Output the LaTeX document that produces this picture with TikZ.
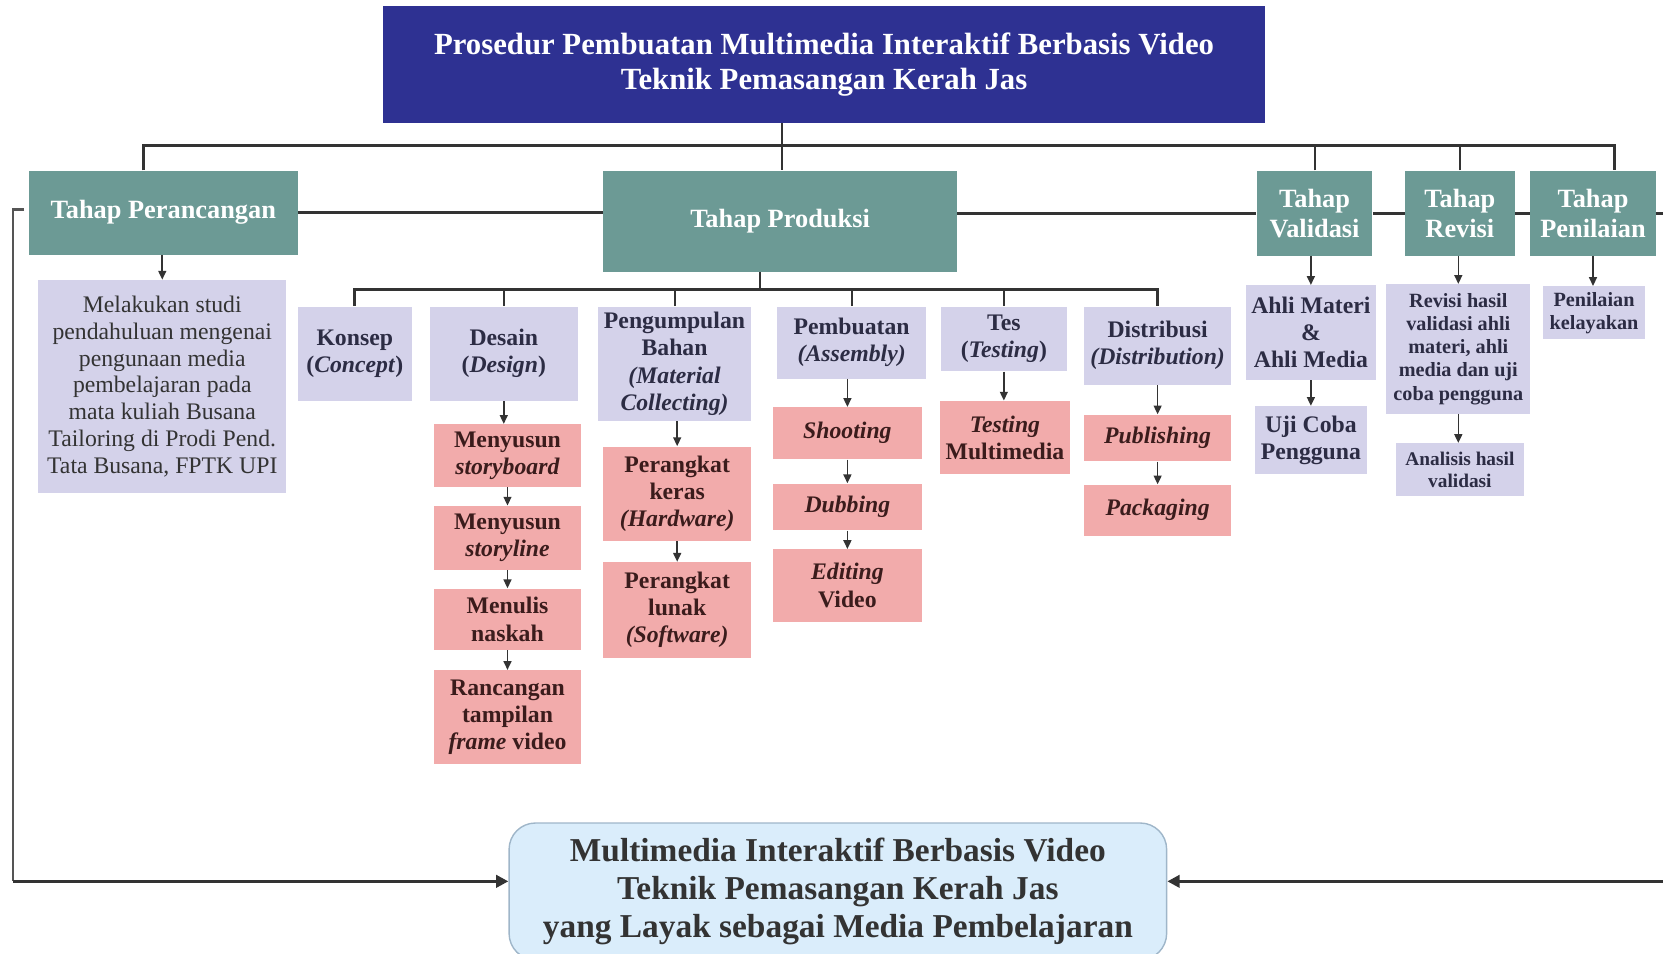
\documentclass[tikz,border=0pt]{standalone}
\usepackage{fontspec}
\setmainfont{Liberation Serif}
\usetikzlibrary{arrows.meta,calc}
\definecolor{titleblue}{HTML}{2E3192}
\definecolor{stageteal}{HTML}{6C9A95}
\definecolor{lavbox}{HTML}{D4D2EA}
\definecolor{pinkbox}{HTML}{F2ABAB}
\definecolor{finalfill}{HTML}{DAEDFB}
\definecolor{finalline}{HTML}{9FB6C9}
\definecolor{linegray}{HTML}{333333}
\definecolor{sidegray}{HTML}{555555}
\definecolor{lavtext}{HTML}{2C2C44}
\definecolor{pinktext}{HTML}{3B1C1C}
\newcommand{\pxu}{0.021212cm}

\begin{document}
\begin{tikzpicture}[x=0.021212cm,y=-0.021212cm,
  sz/.style 2 args={minimum width=#1*\pxu,minimum height=#2*\pxu},
  titlebox/.style={inner sep=0pt,align=center,fill=titleblue,text=white,font=\bfseries\fontsize{17.5}{19.5}\selectfont},
  stagebox/.style={inner sep=0pt,align=center,fill=stageteal,text=white,font=\bfseries\fontsize{15}{17}\selectfont},
  subbox/.style={inner sep=0pt,align=center,fill=lavbox,text=lavtext,font=\bfseries\fontsize{13.5}{15.4}\selectfont},
  smallbox/.style={subbox,font=\bfseries\fontsize{11.5}{13.2}\selectfont},
  pinkstep/.style={inner sep=0pt,align=center,fill=pinkbox,text=pinktext,font=\bfseries\fontsize{13.5}{15.4}\selectfont},
  finalbox/.style={inner sep=0pt,align=center,fill=finalfill,draw=finalline,line width=0.8pt,rounded corners=15pt,text=linegray,font=\bfseries\fontsize{19}{21.5}\selectfont},
  bus/.style={draw=linegray,line width=1.8pt},
  drop/.style={draw=linegray,line width=1.1pt},
  sideline/.style={draw=sidegray,line width=1.2pt},
  arr/.style={draw=linegray,line width=0.9pt,-{Triangle[length=5pt,width=4.5pt]}},
  backarr/.style={bus,-{Triangle[length=7pt,width=7pt]}}]

\useasboundingbox (0,0) rectangle (1568,899);

% top and stages:
\node[titlebox,sz={832}{110}] (title) at (777,61) {Prosedur Pembuatan Multimedia Interaktif Berbasis Video\\Teknik Pemasangan Kerah Jas};
\node[stagebox,sz={254}{79}] (perancangan) at (154,200.5) {Tahap Perancangan};
\node[stagebox,sz={333}{95}] (produksi) at (735.5,208.5) {Tahap Produksi};
\node[stagebox,sz={109}{80}] (validasi) at (1239.5,201) {Tahap\\Validasi};
\node[stagebox,sz={103}{80}] (revisi) at (1376.5,201) {Tahap\\Revisi};
\node[stagebox,sz={118}{80}] (penilaian) at (1502,201) {Tahap\\Penilaian};

% production steps:
\node[subbox,sz={107}{89}] (konsep) at (334.5,333.5) {Konsep\\(\textit{Concept})};
\node[subbox,sz={140}{89}] (desain) at (475,333.5) {Desain\\(\textit{Design})};
\node[subbox,sz={144}{108}] (bahan) at (636,343) {Pengumpulan\\Bahan\\\textit{(Material}\\\textit{Collecting)}};
\node[subbox,sz={140}{68}] (pembuatan) at (803,323) {Pembuatan\\\textit{(Assembly)}};
\node[subbox,sz={119}{61}] (tes) at (946.5,319.5) {Tes\\(\textit{Testing})};
\node[subbox,sz={139}{74}] (distribusi) at (1091.5,326) {Distribusi\\\textit{(Distribution)}};

\node[pinkstep,sz={139}{59}] (storyboard) at (478.5,429.5) {Menyusun\\\textit{storyboard}};
\node[pinkstep,sz={139}{60}] (storyline) at (478.5,507) {Menyusun\\\textit{storyline}};
\node[pinkstep,sz={139}{58}] (naskah) at (478.5,584) {Menulis\\naskah};
\node[pinkstep,sz={139}{88}] (tampilan) at (478.5,676) {Rancangan\\tampilan\\\textit{frame} video};
\node[pinkstep,sz={139}{89}] (keras) at (638.5,465.5) {Perangkat\\keras\\\textit{(Hardware)}};
\node[pinkstep,sz={139}{90}] (lunak) at (638.5,575) {Perangkat\\lunak\\\textit{(Software)}};
\node[pinkstep,sz={140}{49}] (shooting) at (799,408.5) {\textit{Shooting}};
\node[pinkstep,sz={140}{44}] (dubbing) at (799,478) {\textit{Dubbing}};
\node[pinkstep,sz={140}{68}] (editing) at (799,552) {\textit{Editing}\\Video};
\node[pinkstep,sz={123}{69}] (testing) at (947.5,412.5) {\textit{Testing}\\Multimedia};
\node[pinkstep,sz={139}{44}] (publishing) at (1091.5,413) {\textit{Publishing}};
\node[pinkstep,sz={139}{48}] (packaging) at (1091.5,481) {\textit{Packaging}};

% other stages:
\node[subbox,sz={234}{201},font=\fontsize{13.5}{15.2}\selectfont,text=linegray] (studi) at (153,364.5) {Melakukan studi\\pendahuluan mengenai\\pengunaan media\\pembelajaran pada\\mata kuliah Busana\\Tailoring di Prodi Pend.\\Tata Busana, FPTK UPI};
\node[subbox,sz={122}{89}] (ahli) at (1236,313.5) {Ahli Materi\\\&\\Ahli Media};
\node[subbox,sz={106}{64}] (ujicoba) at (1236,415) {Uji Coba\\Pengguna};
\node[smallbox,sz={136}{122}] (revhasil) at (1375,329) {Revisi hasil\\validasi ahli\\materi, ahli\\media dan uji\\coba pengguna};
\node[smallbox,sz={121}{50},font=\bfseries\fontsize{11}{12.2}\selectfont] (analisis) at (1376.5,443) {Analisis hasil\\validasi};
\node[smallbox,sz={96}{50}] (kelayakan) at (1503,295) {Penilaian\\kelayakan};

\node[finalbox,sz={620}{129}] (final) at (790,840.5) {Multimedia Interaktif Berbasis Video\\Teknik Pemasangan Kerah Jas\\yang Layak sebagai Media Pembelajaran};

% connectors:
\coordinate (topbus) at (737,137);
\coordinate (subbus) at (717,273);
\coordinate (leftcorner) at (12,831);
\coordinate (rightcorner) at (1590,831);
\draw[drop] (title.south -| topbus) -- (produksi.north -| topbus);
\draw[bus] ($(perancangan.north)+(-19,0)$) |- (topbus) -| ($(penilaian.north)+(20,0)$);
\draw[drop] (validasi.north) -- (validasi.north |- topbus);
\draw[drop] (revisi.north) -- (revisi.north |- topbus);

\draw[bus] (perancangan.east) -- (produksi.west |- perancangan.east);
\draw[bus] (produksi.east |- validasi.west) -- (validasi.west);
\draw[bus] (validasi.east) -- (revisi.west);
\draw[bus] (revisi.east) -- (penilaian.west);

\draw[drop] (produksi.south -| subbus) -- (subbus);
\draw[bus] (konsep.north) |- (subbus) -| (distribusi.north);
\draw[drop] (desain.north) -- (desain.north |- subbus);
\draw[drop] (bahan.north) -- (bahan.north |- subbus);
\draw[drop] (pembuatan.north) -- (pembuatan.north |- subbus);
\draw[drop] (tes.north) -- (tes.north |- subbus);

\draw[arr] (perancangan.south -| studi.north) -- (studi.north);
\draw[arr] (desain.south) -- (desain.south |- storyboard.north);
\draw[arr] (storyboard.south) -- (storyline.north);
\draw[arr] (storyline.south) -- (naskah.north);
\draw[arr] (naskah.south) -- (tampilan.north);
\draw[arr] (bahan.south -| keras.north) -- (keras.north);
\draw[arr] (keras.south) -- (lunak.north);
\draw[arr] (pembuatan.south -| shooting.north) -- (shooting.north);
\draw[arr] (shooting.south) -- (dubbing.north);
\draw[arr] (dubbing.south) -- (editing.north);
\draw[arr] (tes.south) -- (tes.south |- testing.north);
\draw[arr] (distribusi.south) -- (publishing.north);
\draw[arr] (publishing.south) -- (packaging.north);
\draw[arr] (validasi.south -| ahli.north) -- (ahli.north);
\draw[arr] (ahli.south) -- (ujicoba.north);
\draw[arr] (revisi.south -| revhasil.north) -- (revhasil.north);
\draw[arr] (revhasil.south) -- (revhasil.south |- analisis.north);
\draw[arr] (penilaian.south) -- (penilaian.south |- kelayakan.north);

% back to the result:
\draw[sideline] ($(perancangan.west)+(-4,-3)$) -| (leftcorner);
\draw[backarr] (leftcorner) -- (final.west |- leftcorner);
\draw[bus] (penilaian.east) -| (rightcorner);
\draw[backarr] (rightcorner) -- (final.east |- rightcorner);

\end{tikzpicture}
\end{document}
